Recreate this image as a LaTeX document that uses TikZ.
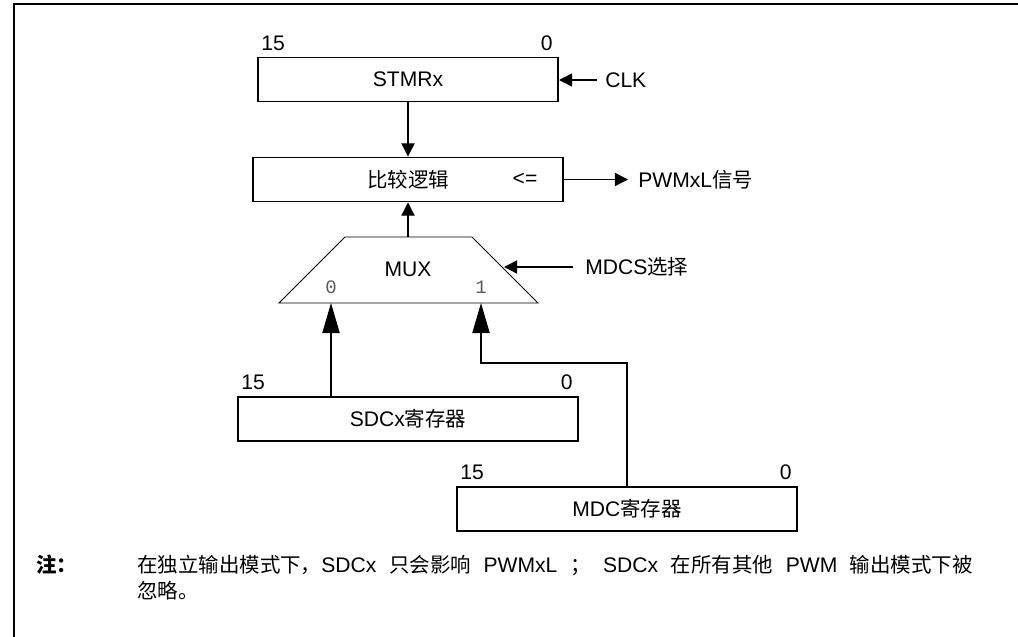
\documentclass[tikz,border=0pt]{standalone}
\usepackage{fontspec}
\setmainfont{Liberation Sans}
\setmonofont{Liberation Mono}
\newfontfamily\cjk[Scale=0.97]{Noto Sans CJK SC}
\newcommand{\zh}[1]{{\cjk #1}}
\newcommand{\notespacing}{\spaceskip=0.6em\relax}
\usetikzlibrary{arrows.meta,positioning}

\tikzset{
    every picture/.style={
        x=0.25mm,y=-0.25mm,
        font=\fontsize{15}{18}\selectfont,
        >={Triangle[length=3.3mm,width=3.3mm]}
    },
    % register and logic boxes
    regbox/.style={draw,line width=1.4pt,minimum height=11mm,inner sep=0pt},
    bitlbl/.style={inner sep=0pt},
    sellbl/.style={inner sep=0pt,font=\ttfamily\fontsize{13.5}{15}\selectfont,text=black!65},
    % connectors
    arrow/.style={->,line width=0.9pt},
    bigarrow/.style={-{Triangle[length=7.5mm,width=4.3mm]},line width=0.9pt}
}

\begin{document}
\begin{tikzpicture}
  \useasboundingbox (0,0) rectangle (1018,636);

  % frame
  \draw[line width=1.4pt] (14,640) -- (14,4) -- (1022,4);

  % timer and compare logic
  \node[regbox,minimum width=75mm] (stmr) at (408,79.5) {STMRx};
  \node[bitlbl,anchor=south west] (stmrhi) at ([xshift=1mm,yshift=1.5mm]stmr.north west) {15};
  \node[bitlbl,anchor=south east] (stmrlo) at ([xshift=-1.5mm,yshift=1.5mm]stmr.north east) {0};
  \node[bitlbl,anchor=west] (clk) at (605,80) {CLK};

  \node[regbox,minimum width=77.5mm] (cmp) at (408,179.5) {\zh{比较逻辑}};
  \node[bitlbl] (cmpop) at (525,179.5) {<=};
  \node[bitlbl,anchor=west] (pwm) at (638,179.5) {PWMxL\zh{信号}};

  \draw[arrow] (stmr) -- (cmp);
  \draw[arrow,shorten <=2mm] (clk.west) -- (clk.west -| stmr.east);
  \draw[arrow,shorten >=2.5mm] (cmp.east) -- (cmp.east -| pwm.west);

  % multiplexer
  \draw[line width=0.6pt] (345,237) -- (472,237) -- (538,303) -- (279,303) -- cycle;
  \node[bitlbl] (mux) at (408,269) {MUX};
  \node[sellbl] (muxzero) at (331,287) {0};
  \node[sellbl] (muxone) at (481,287) {1};
  \coordinate (muxout) at (408,237);
  \coordinate (muxin0) at (331,303);
  \coordinate (muxin1) at (481,303);
  \coordinate (muxsel) at (504,267);
  \node[bitlbl,anchor=west] (mdcs) at (585,267) {MDCS\zh{选择}};

  \draw[arrow] (muxout) -- (cmp.south -| muxout);
  \draw[arrow,shorten <=3mm] (mdcs.west) -- (muxsel);

  % duty cycle registers
  \node[regbox,minimum width=85mm] (sdc) at (408,419) {SDCx\zh{寄存器}};
  \node[bitlbl,anchor=south west] (sdchi) at ([xshift=1mm,yshift=1.5mm]sdc.north west) {15};
  \node[bitlbl,anchor=south east] (sdclo) at ([xshift=-1.5mm,yshift=1.5mm]sdc.north east) {0};

  \node[regbox,minimum width=85mm] (mdc) at (627,509) {MDC\zh{寄存器}};
  \node[bitlbl,anchor=south west] (mdchi) at ([xshift=1mm,yshift=1.5mm]mdc.north west) {15};
  \node[bitlbl,anchor=south east] (mdclo) at ([xshift=-1.5mm,yshift=1.5mm]mdc.north east) {0};
  \coordinate (mdcturn) at (627,363);

  \draw[bigarrow] (muxin0 |- sdc.north) -- (muxin0);
  \draw[bigarrow] (mdc.north) -- (mdcturn) -| (muxin1);

  % note
  \node[bitlbl,anchor=west] (notehd) at (36,565) {\zh{\bfseries 注：}};
  \node[bitlbl,anchor=west,align=left,font=\fontsize{15}{18.5}\selectfont\notespacing] (note) at (137,577.5)
    {\zh{在独立输出模式下，}SDCx \zh{只会影响} PWMxL \zh{；} SDCx \zh{在所有其他} PWM \zh{输出模式下被}\\
     \zh{忽略。}};
\end{tikzpicture}
\end{document}
